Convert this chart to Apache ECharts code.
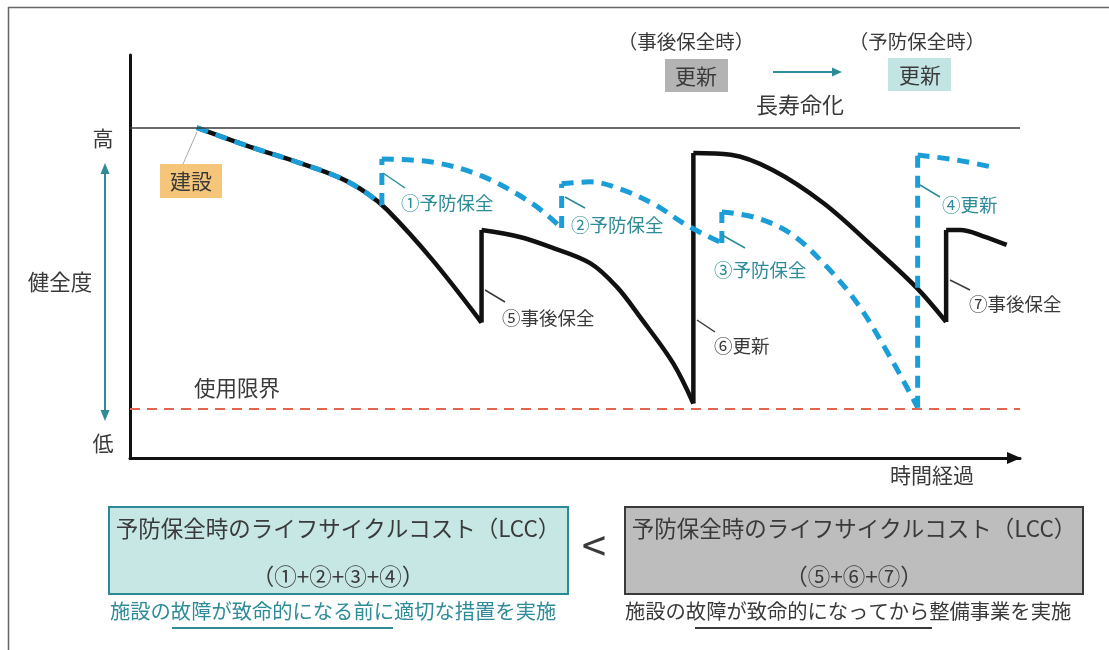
<!DOCTYPE html>
<html><head><meta charset="utf-8">
<script src="https://cdn.jsdelivr.net/npm/echarts@6/dist/echarts.min.js"></script>
<style>html,body{margin:0;padding:0;background:#fff}#c{width:1109px;height:650px}</style>
</head><body><div id="c"></div>
<script>
// ---- data (time, health) ----
const highLevel = 100;      // 高
const usageLimit = 15;      // 使用限界
// 事後保全 (reactive) curve arcs
const reactiveArc1 = [[7.5,100],[13.5,94.2],[19.1,89.3],[23.6,84.8],[26.6,80.2],[28.9,75.1],[34.0,59.9],[39.5,41.0]];
const reactiveArc2 = [[39.5,69.0],[43.8,66.9],[47.2,63.9],[51.7,59.0],[54.7,51.8],[57.3,42.7],[61.0,28.8],[63.3,16.5]];
const reactiveArc3 = [[63.3,92.3],[67.5,91.8],[72.2,87.2],[77.9,77.2],[83.5,63.9],[88.4,51.5],[91.7,41.2]];
const reactiveArc4 = [[91.7,69.0],[93.3,69.0],[95.8,67.2],[98.5,64.5]];
const reactiveJumps = [[[39.5,41.0],[39.5,69.0]],[[63.3,16.5],[63.3,92.3]],[[91.7,41.2],[91.7,69.0]]];
// 予防保全 (preventive) curve arcs
const preventiveArc1 = [[7.5,100],[13.5,94.2],[19.1,89.3],[23.6,84.8],[26.6,80.2],[28.3,76.6]];
const preventiveArc2 = [[28.3,90.5],[33.9,89.6],[39.5,85.4],[45.1,77.2],[48.5,69.6]];
const preventiveArc3 = [[48.5,83.0],[51.7,83.6],[55.1,81.4],[58.9,76.8],[62.6,70.4],[66.5,65.1]];
const preventiveArc4 = [[66.5,74.5],[70.4,72.7],[74.2,68.0],[77.9,59.0],[81.7,46.9],[85.4,30.6],[88.5,15.3]];
const preventiveArc5 = [[88.5,91.7],[92.9,90.2],[97.3,87.8]];
const preventiveJumps = [[[28.3,76.6],[28.3,90.5]],[[48.5,69.6],[48.5,83.0]],[[66.5,65.1],[66.5,74.5]],[[88.5,15.2],[88.5,91.7]]];

function joinWithNulls(parts){
  const out=[];
  parts.forEach((p,i)=>{ if(i>0) out.push(null); p.forEach(v=>out.push(v)); });
  return out;
}

const TEAL='#2e8c98', DARK='#3a3a3a', BLUE='#1b9dd8', FONT='"Noto Sans CJK JP"';
function txt(text,x,y,size,color,align){
  return {type:'text', z:100, style:{text:text,x:x,y:y,fill:color||DARK,font:size+'px '+FONT,textAlign:align||'center',textVerticalAlign:'middle'}};
}
function ln(x1,y1,x2,y2,color,w){
  return {type:'line', z:100, shape:{x1:x1,y1:y1,x2:x2,y2:y2}, style:{stroke:color,lineWidth:w||1.5}};
}
function rc(x,y,w,h,fill,stroke,lw){
  return {type:'rect', z:90, shape:{x:x,y:y,width:w,height:h}, style:{fill:fill,stroke:stroke||null,lineWidth:lw||0}};
}

const chart = echarts.init(document.getElementById('c'));
const lineBase = {type:'line', symbol:'none', connectNulls:false, silent:true, animation:false};
chart.setOption({
  animation:false,
  backgroundColor:'#fff',
  grid:{left:130, top:55, width:890, height:403},
  xAxis:{type:'value', min:0, max:100,
    axisLine:{show:true, lineStyle:{color:'#111', width:3}, symbol:['none','triangle'], symbolSize:[12,14], symbolOffset:[0,-6]},
    axisTick:{show:false}, axisLabel:{show:false}, splitLine:{show:false}},
  yAxis:{type:'value', min:0, max:122,
    axisLine:{show:true, lineStyle:{color:'#111', width:3}},
    axisTick:{show:false}, axisLabel:{show:false}, splitLine:{show:false}},
  series:[
    Object.assign({}, lineBase, {name:'事後保全', smooth:0.35,
      data: joinWithNulls([reactiveArc1,reactiveArc2,reactiveArc3,reactiveArc4]),
      lineStyle:{color:'#111', width:4.5},
      markLine:{silent:true, symbol:['none','none'], label:{show:false},
        data:[{yAxis:highLevel, lineStyle:{color:'#3a3a3a', width:1.5, type:'solid'}},
              {yAxis:usageLimit, lineStyle:{color:'#e2664e', width:2, type:[10,7]}}]}}),
    Object.assign({}, lineBase, {name:'事後保全jump', smooth:false,
      data: joinWithNulls(reactiveJumps), lineStyle:{color:'#111', width:4.5}}),
    Object.assign({}, lineBase, {name:'予防保全', smooth:0.35,
      data: joinWithNulls([preventiveArc1,preventiveArc2,preventiveArc3,preventiveArc4,preventiveArc5]),
      lineStyle:{color:BLUE, width:5, type:[12,8]}}),
    Object.assign({}, lineBase, {name:'予防保全jump', smooth:false,
      data: joinWithNulls(preventiveJumps), lineStyle:{color:BLUE, width:5, type:[12,8]}})
  ],
  graphic:[
    // frame
    ln(8,7.5,1109,7.5,'#666',1.5), ln(8.5,7,8.5,650,'#666',1.5),
    // top legend
    txt('（事後保全時）',686,42,19.5,DARK), rc(665,59,63,33,'#b3b3b3'), txt('更新',696,76,21,DARK),
    ln(773,72,833,72,TEAL,2), {type:'polygon',z:100,shape:{points:[[832,67.5],[842,72],[832,76.5]]},style:{fill:TEAL}},
    txt('長寿命化',800,105,22,DARK),
    txt('（予防保全時）',917,42,19.5,DARK), rc(888,58,63,33,'#c2e5e3'), txt('更新',920,75,21,DARK),
    // left axis labels
    txt('高',103,138,21,DARK), txt('低',103,443,21,DARK), txt('健全度',60,282,21.5,DARK),
    ln(105,172,105,412,TEAL,2),
    {type:'polygon',z:100,shape:{points:[[100.5,174],[105,163],[109.5,174]]},style:{fill:TEAL}},
    {type:'polygon',z:100,shape:{points:[[100.5,410],[105,421],[109.5,410]]},style:{fill:TEAL}},
    txt('使用限界',194,388,21.5,DARK,'left'), txt('時間経過',932,475,21,DARK),
    // 建設
    ln(197,132,183,164,'#aaa',1), rc(160,164,62,34,'#f5c67a'), txt('建設',191,181,21,DARK),
    // curve labels
    ln(383,173,405,188,TEAL,1.5), txt('①予防保全',401,203,18.5,TEAL,'left'),
    ln(565,197,585,208,TEAL,1.5), txt('②予防保全',571,225,18.5,TEAL,'left'),
    ln(722,235,745,248,TEAL,1.5), txt('③予防保全',714,270,18.5,TEAL,'left'),
    ln(920,185,940,197,TEAL,1.5), txt('④更新',942,205,18.5,TEAL,'left'),
    ln(485,290,505,302,DARK,1.5), txt('⑤事後保全',502,318,18.5,DARK,'left'),
    ln(697,320,715,332,DARK,1.5), txt('⑥更新',714,346,18.5,DARK,'left'),
    ln(950,280,970,290,DARK,1.5), txt('⑦事後保全',969,304,18.5,DARK,'left'),
    // bottom boxes
    rc(109,507,459,87,'#c6e7e3','#2b8a96',2),
    txt('予防保全時のライフサイクルコスト（LCC）',338,528,22.5,DARK),
    txt('（①+②+③+④）',338,576,22.5,DARK),
    txt('施設の故障が致命的になる前に適切な措置を実施',110,611,20.3,TEAL,'left'),
    ln(172,628,393,628,TEAL,2),
    txt('<',594,545,44,DARK),
    rc(625,507,458,87,'#bdbdbd','#3a3a3a',2),
    txt('予防保全時のライフサイクルコスト（LCC）',854,528,22.5,DARK),
    txt('（⑤+⑥+⑦）',854,576,22.5,DARK),
    txt('施設の故障が致命的になってから整備事業を実施',625,611,20.3,DARK,'left'),
    ln(695,628,932,628,DARK,2)
  ]
});
</script></body></html>
